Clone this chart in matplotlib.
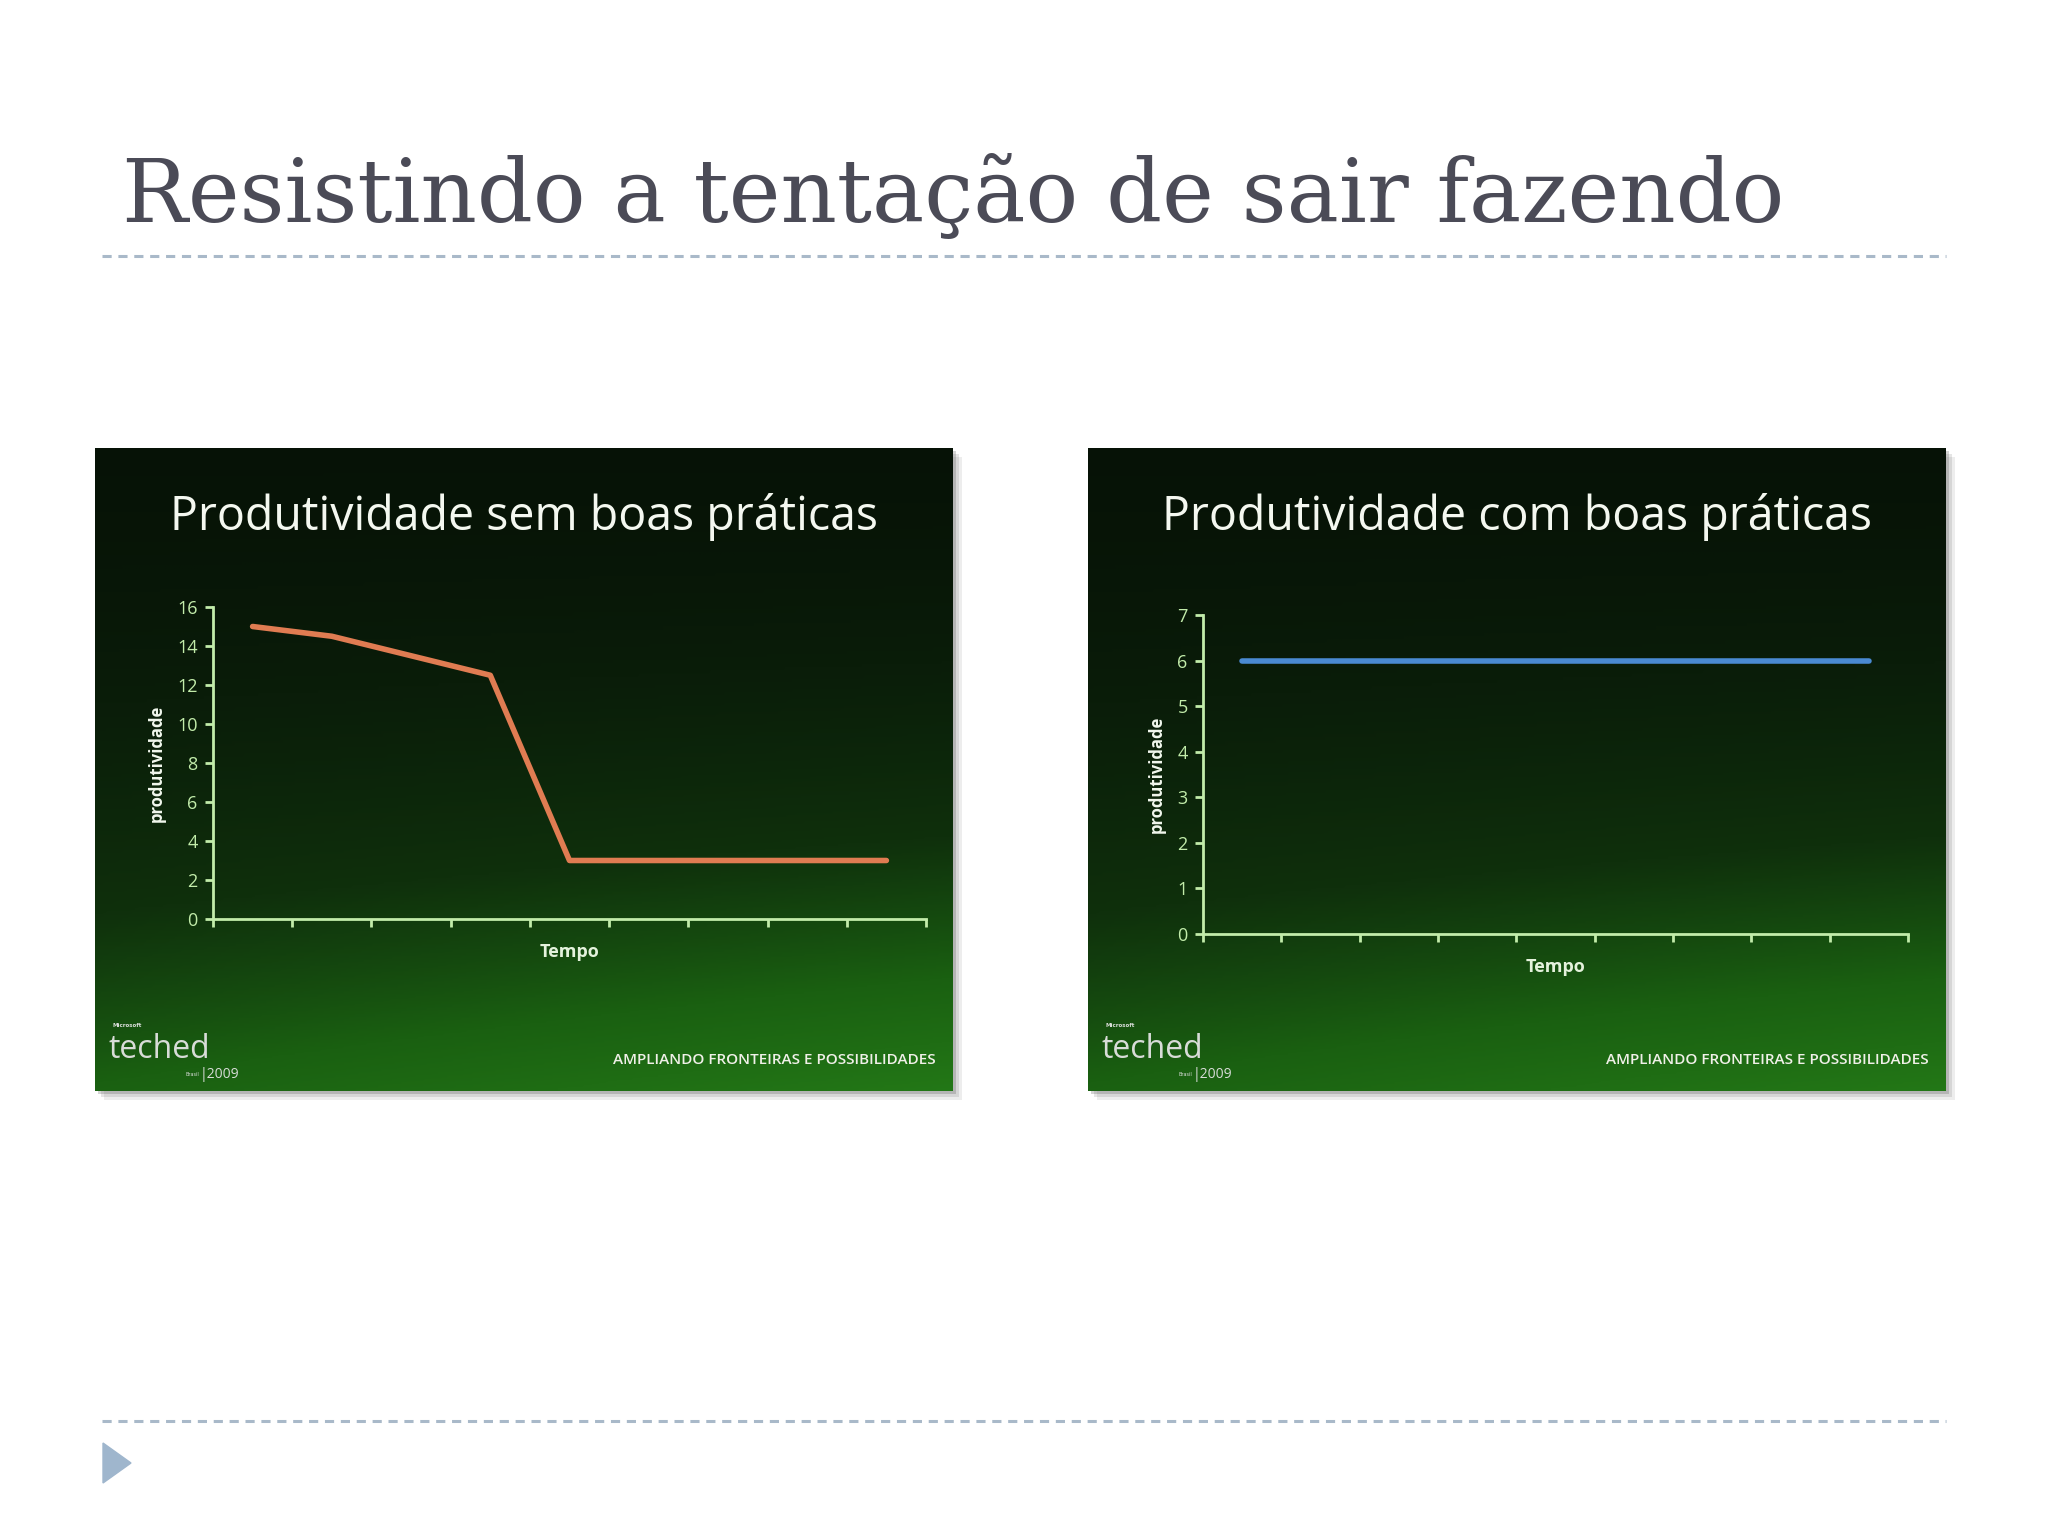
import numpy as np
import matplotlib
matplotlib.use("Agg")
import matplotlib.pyplot as plt
from matplotlib.colors import LinearSegmentedColormap
from matplotlib.patches import Rectangle, Polygon

# data
tempo_n = 9
sem_boas = [15, 14.5, 13.5, 12.5, 3, 3, 3, 3, 3]
com_boas = [6, 6, 6, 6, 6, 6, 6, 6, 6]
sem_yticks = [0, 2, 4, 6, 8, 10, 12, 14, 16]
com_yticks = [0, 1, 2, 3, 4, 5, 6, 7]

W, H = 2048, 1536
fig = plt.figure(figsize=(20.48, 15.36), dpi=100)
fig.patch.set_facecolor("white")

def fx(px):
    return px / W

def fy(py):
    return 1 - py / H

# slide title and dashed rules
fig.text(fx(122), fy(222), "Resistindo a tentação de sair fazendo", family="DejaVu Serif",
         fontsize=63, color="#4b4b57", ha="left", va="baseline")
rule = dict(color="#a9b9c9", lw=2.2, ls=(0, (3, 2.2)))
fig.add_artist(plt.Line2D([fx(102), fx(1946)], [fy(256), fy(256)], **rule))
fig.add_artist(plt.Line2D([fx(102), fx(1946)], [fy(1421), fy(1421)], **rule))
fig.add_artist(Polygon([[fx(103), fy(1443)], [fx(131), fy(1463)], [fx(103), fy(1483)]],
                       closed=True, color="#9fb6cd", transform=fig.transFigure))

green = LinearSegmentedColormap.from_list("g", ["#050e05", "#0a1d09", "#0f300c", "#1a6011", "#247a17"])
yy, xx = np.mgrid[0:1:200j, 0:1:300j]
grad = np.clip(0.08 + 0.85 * yy ** 1.5 * (0.8 + 0.25 * xx), 0, 1)

def panel(px0, title, values, yticks, line_color, plot_box):
    x0, y0, x1, y1 = px0, 448, px0 + 858, 1091
    # shadow behind the slide picture
    for k, a in [(9, 0.10), (6, 0.15), (3, 0.25)]:
        fig.add_artist(Rectangle((fx(x0 + k), fy(y1 + k)), fx(x1 - x0), (y1 - y0) / H,
                                 transform=fig.transFigure, color="#555555", alpha=a, lw=0, zorder=-5))
    bg = fig.add_axes([fx(x0), fy(y1), fx(x1 - x0), (y1 - y0) / H])
    bg.imshow(grad, cmap=green, aspect="auto", extent=[0, 1, 0, 1], vmin=0, vmax=1)
    bg.set_xlim(0, 1)
    bg.set_ylim(0, 1)
    bg.axis("off")
    bg.text(0.5, 0.893, title, family="Open Sans", fontsize=33.5, color="#f4f8f0", ha="center", va="center")
    bg.text(0.016, 0.065, "teched", family="Open Sans", fontsize=23, color="#d8dcd8", ha="left", va="center")
    bg.text(0.02, 0.098, "Microsoft", family="DejaVu Sans", fontsize=4, color="#d8dcd8",
            ha="left", va="bottom", weight="bold")
    bg.text(0.105, 0.025, "Brasil", family="DejaVu Sans", fontsize=3.5, color="#d8dcd8", ha="left", va="center")
    bg.text(0.122, 0.025, "|2009", family="Open Sans", fontsize=10, color="#d8dcd8", ha="left", va="center")
    bg.text(0.98, 0.048, "AMPLIANDO FRONTEIRAS E POSSIBILIDADES", family="Open Sans", fontsize=11,
            color="#f0f0e8", ha="right", va="center", weight="semibold")

    ax = fig.add_axes(plot_box)
    ax.patch.set_alpha(0)
    xs = np.arange(len(values)) + 0.5
    ax.plot(xs, values, color=line_color, lw=4, solid_joinstyle="round", solid_capstyle="round")
    ax.set_xlim(0, tempo_n)
    ax.set_ylim(yticks[0], yticks[-1])
    ax.set_xticks(np.arange(tempo_n + 1))
    ax.set_xticklabels([])
    ax.set_yticks(yticks)
    ax.set_yticklabels([str(t) for t in yticks], family="Open Sans", fontsize=13, color="#d6ecc8")
    for s in ["top", "right"]:
        ax.spines[s].set_visible(False)
    for s in ["left", "bottom"]:
        ax.spines[s].set_color("#c2ecaa")
        ax.spines[s].set_linewidth(2)
    ax.tick_params(colors="#c2ecaa", width=2, length=6, direction="out", pad=5)
    ax.set_xlabel("Tempo", family="Open Sans", fontsize=13, weight="bold", color="#e4f2dc", labelpad=6)
    ax.set_ylabel("produtividade", family="Open Sans", fontsize=12, weight="bold", color="#f2f8ee", labelpad=8)

panel(95, "Produtividade sem boas práticas", sem_boas, sem_yticks, "#e07c52",
      [fx(213), fy(919), fx(926 - 213), (919 - 607) / H])
panel(1088, "Produtividade com boas práticas", com_boas, com_yticks, "#4a8ad2",
      [fx(1203), fy(934), fx(1908 - 1203), (934 - 615) / H])

fig.savefig("out.png", dpi=100, facecolor="white")
